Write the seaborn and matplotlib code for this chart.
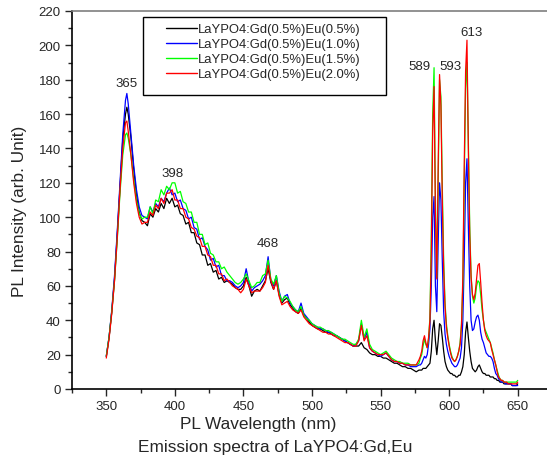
import matplotlib

matplotlib.use("Agg")

import matplotlib.pyplot as plt
import numpy as np
import pandas as pd
import seaborn as sns
from matplotlib.patches import Rectangle
from matplotlib.ticker import MultipleLocator


# wavelength grid (nm): coarse on the broad band, 1 nm on the Eu lines
WL_A = [350, 352, 354, 356, 358, 360, 362, 364, 365, 366, 368, 370, 372, 374, 376, 378]
WL_B = list(range(380, 579, 2))
WL_C = list(range(579, 651))
WAVELENGTH = WL_A + WL_B + WL_C

LABELS = [
    "LaYPO4:Gd(0.5%)Eu(0.5%)",
    "LaYPO4:Gd(0.5%)Eu(1.0%)",
    "LaYPO4:Gd(0.5%)Eu(1.5%)",
    "LaYPO4:Gd(0.5%)Eu(2.0%)",
]
COLORS = ["#000000", "#0000ff", "#00ff00", "#ff0000"]

EU_05 = [
    19, 30, 45, 64, 90, 118, 145, 160, 164, 160, 146, 128, 113, 103, 98, 97,
    95, 102, 100, 105, 103, 108, 105, 111, 108, 111,
    106, 107, 102, 101, 96, 97, 91, 91, 85, 84,
    78, 78, 72, 73, 68, 69, 64, 65, 62, 63,
    62, 61, 59, 58, 58, 60, 65, 60, 54, 57,
    58, 57, 60, 63, 70, 62, 58, 63, 55, 50,
    52, 53, 49, 47, 45, 44, 47, 43, 41, 39,
    37, 36, 35, 35, 34, 33, 33, 32, 31, 31,
    30, 29, 28, 27, 26, 25, 25, 25, 27, 24,
    23, 21, 20, 20, 19, 19, 18, 18, 17, 16,
    15, 15, 14, 13, 13, 12, 12, 11, 10, 11,
    11, 11, 12, 12, 12, 13, 14, 15, 22, 35,
    40, 28, 20, 28, 38, 37, 30, 22, 16, 13,
    11, 10, 9, 9, 8, 8, 7, 7, 8, 8,
    10, 13, 20, 33, 39, 30, 22, 16, 12, 11,
    10, 11, 13, 14, 12, 10, 9, 9, 8, 8,
    8, 7, 7, 7, 6, 6, 5, 5, 4, 4,
    4, 3, 3, 3, 3, 3, 3, 2, 2, 2,
    2, 3,
]

EU_10 = [
    19, 30, 46, 66, 92, 120, 148, 168, 172, 166, 148, 130, 116, 106, 101, 100,
    99, 106, 103, 108, 106, 111, 109, 114, 117, 113,
    114, 109, 110, 105, 104, 99, 100, 94, 93, 87,
    88, 83, 81, 75, 76, 71, 72, 66, 66, 63,
    63, 62, 60, 59, 60, 62, 70, 62, 57, 59,
    60, 61, 63, 66, 77, 63, 60, 66, 57, 51,
    54, 55, 50, 48, 46, 45, 50, 44, 42, 40,
    38, 37, 36, 35, 35, 34, 33, 33, 32, 31,
    30, 29, 28, 27, 26, 25, 26, 28, 38, 29,
    33, 24, 22, 21, 20, 19, 20, 21, 19, 17,
    16, 16, 15, 15, 14, 14, 13, 13, 13, 14,
    14, 15, 17, 19, 18, 20, 26, 35, 60, 100,
    112, 60, 45, 85, 120, 110, 75, 45, 32, 26,
    22, 19, 17, 15, 14, 13, 13, 14, 16, 18,
    24, 40, 75, 120, 134, 95, 60, 40, 34, 35,
    39, 42, 43, 40, 33, 29, 27, 24, 21, 20,
    19, 19, 18, 16, 12, 9, 8, 6, 5, 4,
    4, 4, 3, 3, 3, 3, 3, 2, 2, 2,
    2, 2,
]

EU_15 = [
    19, 30, 45, 63, 87, 114, 136, 148, 149, 146, 136, 122, 110, 102, 99, 100,
    100, 106, 102, 110, 109, 116, 113, 118, 116, 120,
    120, 114, 115, 109, 108, 103, 103, 97, 97, 90,
    90, 84, 85, 79, 78, 74, 74, 70, 71, 68,
    66, 64, 62, 61, 62, 64, 67, 63, 59, 60,
    62, 62, 66, 67, 75, 64, 61, 66, 56, 51,
    54, 53, 51, 48, 46, 45, 48, 43, 41, 40,
    38, 37, 36, 36, 35, 34, 34, 33, 32, 31,
    30, 29, 29, 28, 27, 26, 26, 29, 40, 30,
    35, 26, 23, 22, 21, 20, 21, 22, 20, 18,
    17, 16, 16, 15, 15, 15, 14, 14, 14, 15,
    18, 20, 25, 29, 26, 24, 29, 42, 90, 160,
    187, 110, 65, 120, 180, 170, 118, 75, 50, 38,
    31, 26, 22, 19, 17, 16, 17, 19, 22, 27,
    38, 60, 120, 175, 190, 145, 95, 66, 54, 50,
    53, 60, 63, 62, 55, 46, 40, 35, 33, 31,
    29, 27, 24, 21, 17, 14, 11, 8, 6, 5,
    5, 4, 4, 4, 4, 4, 4, 4, 4, 4,
    4, 5,
]

EU_20 = [
    18, 29, 44, 63, 88, 116, 140, 155, 156, 150, 136, 120, 108, 100, 96, 97,
    97, 103, 101, 107, 105, 111, 108, 114, 114, 116,
    110, 110, 105, 105, 100, 99, 94, 93, 89, 88,
    83, 83, 78, 77, 72, 72, 67, 67, 63, 64,
    62, 60, 59, 58, 56, 58, 64, 60, 56, 57,
    57, 57, 59, 62, 72, 63, 58, 63, 54, 49,
    50, 51, 48, 46, 45, 44, 46, 42, 40, 38,
    37, 36, 35, 34, 33, 33, 32, 32, 31, 30,
    29, 28, 27, 27, 26, 25, 25, 28, 37, 28,
    31, 24, 22, 21, 20, 20, 20, 21, 19, 17,
    16, 16, 15, 15, 14, 14, 14, 14, 14, 17,
    19, 22, 28, 31, 27, 24, 30, 40, 80, 150,
    176, 100, 64, 130, 183, 165, 110, 70, 48, 36,
    30, 25, 21, 18, 17, 16, 17, 19, 22, 26,
    37, 65, 130, 185, 203, 140, 90, 65, 55, 52,
    56, 64, 72, 73, 62, 50, 40, 34, 31, 29,
    28, 27, 23, 20, 17, 14, 10, 7, 6, 5,
    5, 4, 4, 4, 3, 3, 3, 3, 3, 3,
    3, 4,
]

PEAK_TEXT = ["365", "398", "468", "589", "593", "613"]
PEAK_X = [365, 398, 468, 578.5, 601, 616]
PEAK_Y = [178, 126, 85, 188, 188, 208]


def build_frame():
    parts = []
    for label, values in zip(LABELS, [EU_05, EU_10, EU_15, EU_20]):
        parts.append(pd.DataFrame({"wl": WAVELENGTH, "pl": values, "sample": label}))
    return pd.concat(parts, ignore_index=True)


def main():
    sns.set_style("ticks")
    plt.rcParams["font.family"] = ["Liberation Sans", "DejaVu Sans"]

    df = build_frame()

    fig = plt.figure(figsize=(5.47, 4.60), dpi=100)
    ax = fig.add_axes([72 / 547, 70 / 460, 480 / 547, 378 / 460])

    sns.lineplot(
        data=df,
        x="wl",
        y="pl",
        hue="sample",
        hue_order=LABELS,
        palette=dict(zip(LABELS, COLORS)),
        estimator=None,
        sort=False,
        linewidth=0.9,
        legend=False,
        ax=ax,
    )

    ax.set_xlim(325, 675)
    ax.set_ylim(0, 220)
    ax.xaxis.set_major_locator(MultipleLocator(50))
    ax.xaxis.set_minor_locator(MultipleLocator(25))
    ax.yaxis.set_major_locator(MultipleLocator(20))
    ax.yaxis.set_minor_locator(MultipleLocator(10))
    ax.tick_params(which="major", direction="out", length=5, width=1, labelsize=9.5, pad=3)
    ax.tick_params(which="minor", direction="out", length=3, width=1)
    ax.set_xlabel("")
    ax.set_ylabel("")
    for side in ["left", "bottom"]:
        ax.spines[side].set_color("black")
        ax.spines[side].set_linewidth(1.2)
    ax.spines["top"].set_color("#7f7f7f")
    ax.spines["top"].set_linewidth(1.2)
    ax.spines["right"].set_visible(False)

    for txt, px, py in zip(PEAK_TEXT, PEAK_X, PEAK_Y):
        ax.text(px, py, txt, ha="center", va="center", fontsize=9.5)

    fig.text(258 / 547, 1 - 425 / 460, "PL Wavelength (nm)", ha="center", va="center", fontsize=12.4)
    fig.text(275 / 547, 1 - 448 / 460, "Emission spectra of LaYPO4:Gd,Eu",
             ha="center", va="center", fontsize=12.4)
    fig.text(20 / 547, 1 - 211 / 460, "PL Intensity (arb. Unit)", ha="center", va="center",
             rotation=90, fontsize=12.4)

    # legend box drawn by hand so the side padding can be wider than the top/bottom
    fig.patches.append(Rectangle((143 / 547, 1 - 96 / 460), 243 / 547, 78 / 460,
                                 transform=fig.transFigure, fill=False,
                                 edgecolor="black", linewidth=1.0))
    leg = ax.legend(
        ax.lines[:4],
        LABELS,
        loc="upper left",
        bbox_to_anchor=(166 / 547, 1 - 24 / 460),
        bbox_transform=fig.transFigure,
        frameon=False,
        fontsize=9.4,
        handlelength=2.4,
        handletextpad=0.05,
        labelspacing=0.22,
        borderpad=0,
        borderaxespad=0,
    )
    for line in leg.get_lines():
        line.set_linewidth(1.0)

    fig.savefig("out.png", dpi=100)
    plt.close(fig)


if __name__ == "__main__":
    main()
